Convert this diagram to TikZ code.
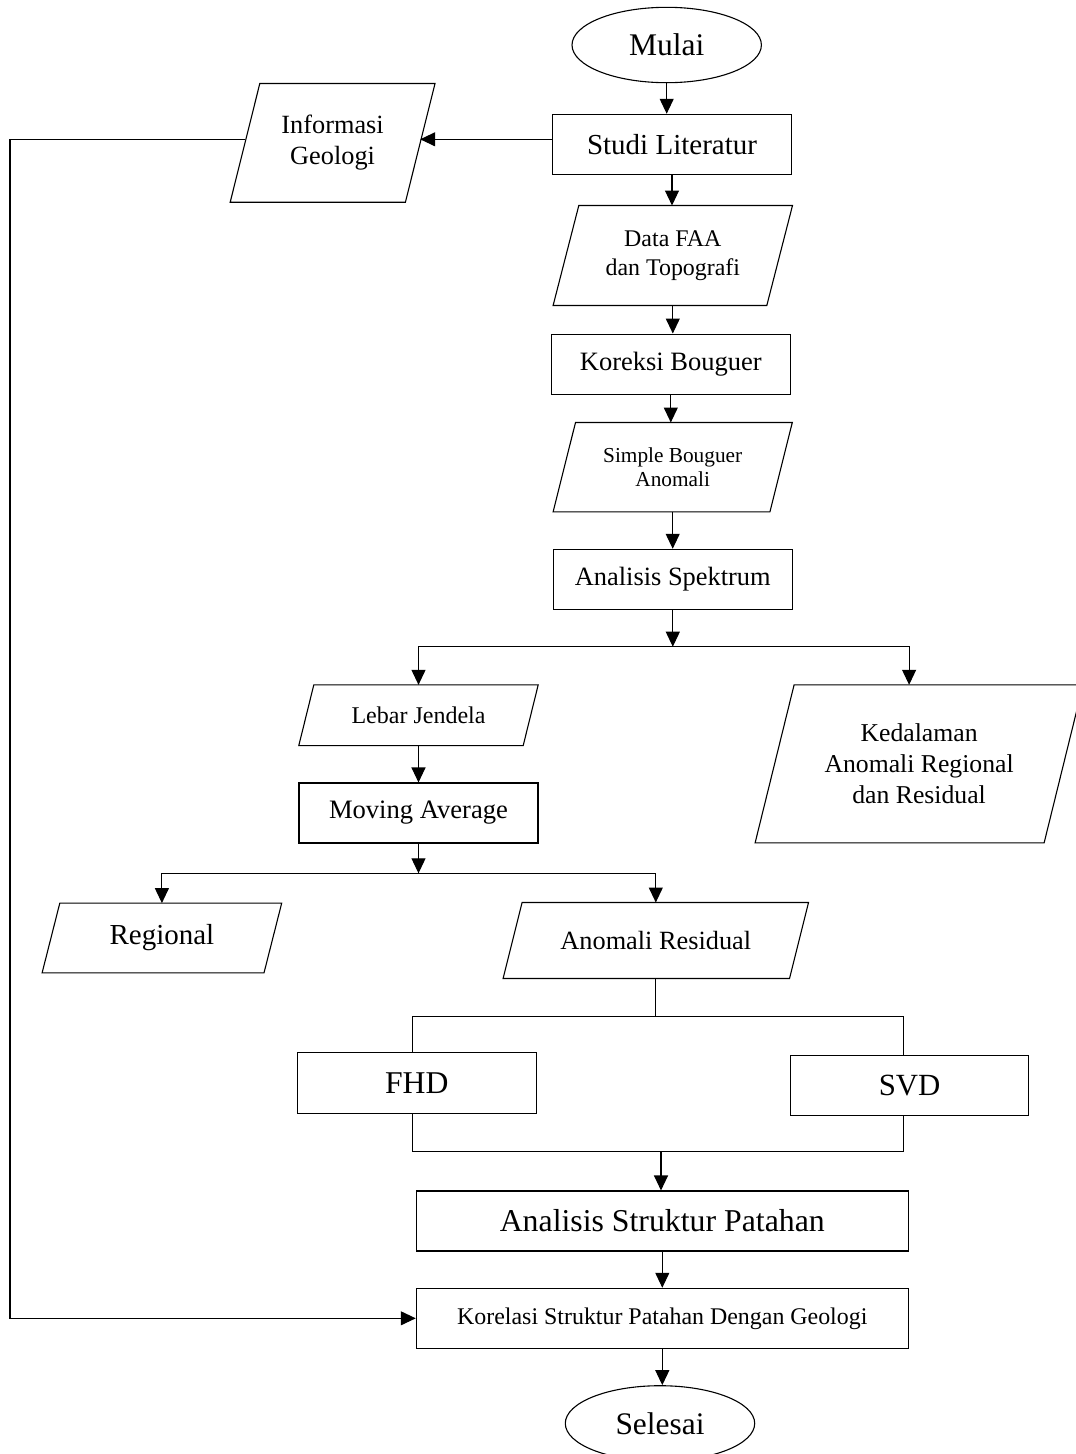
\documentclass[tikz,border=0pt]{standalone}
\usepackage{fontspec}
\setmainfont{Liberation Serif}
\usetikzlibrary{arrows.meta,shapes.geometric}
\tikzset{
  ln/.style={line width=1.1pt, black},
  arr/.style={ln, -{Triangle[length=15pt,width=14pt]}},
  boxn/.style={draw, ln, rectangle, inner sep=0pt, align=center},
  ovaln/.style={draw, ln, ellipse, inner sep=0pt, minimum width=189.4pt, minimum height=75.4pt},
  ptext/.style={inner sep=0pt, align=center},
}
\newcommand{\fs}[2]{\fontsize{#1}{#2}\selectfont}
% name, cx, cy, mid width, height, half skew, font size, baselineskip, text
\newcommand{\pgram}[9]{%
  \node[ptext, minimum width=#4pt, minimum height=#5pt, font=\fs{#7}{#8}] (#1) at (#2,#3) {#9};
  \draw[ln] ([xshift=#6pt]#1.north west) -- ([xshift=#6pt]#1.north east) -- ([xshift=-#6pt]#1.south east) -- ([xshift=-#6pt]#1.south west) -- cycle;}
\begin{document}
\begin{tikzpicture}[x=1pt,y=-1pt]
\useasboundingbox (0,0) rectangle (1076,1454);
\fill[white] (0,0) rectangle (1076,1454);
% nodes
\node[ovaln, font=\fs{31.5}{36}] (mulai) at (666.7,45) {Mulai};
\node[boxn, minimum width=239.4pt, minimum height=60pt, font=\fs{29}{34}] (studi) at (672,144.3) {Studi Literatur};
\pgram{info}{332.6}{142.85}{174.8}{118.3}{14.8}{26.3}{30.7}{Informasi\\Geologi}
\pgram{faa}{672.8}{255.5}{213.3}{99.6}{12.85}{23.9}{28.7}{Data FAA\\dan Topografi}
\node[boxn, minimum width=239pt, minimum height=60.3pt, font=\fs{26.5}{31}] (kor) at (670.8,364.2) {Koreksi Bouguer};
\pgram{sba}{672.7}{467.2}{216.4}{89}{11.2}{21.3}{24.3}{Simple Bouguer\\Anomali}
\node[boxn, minimum width=239pt, minimum height=60.4pt, font=\fs{26.4}{31}] (spek) at (672.8,579.5) {Analisis Spektrum};
\pgram{ked}{919.1}{763.85}{288.6}{157.7}{19.5}{25.7}{31}{Kedalaman\\Anomali Regional\\dan Residual}
\pgram{lebar}{418.5}{715.2}{224}{60.3}{7.5}{24}{28}{Lebar Jendela}
\node[boxn, minimum width=239pt, minimum height=60pt, font=\fs{26.6}{31}] (ma) at (418.5,813) {Moving Average};
\pgram{reg}{161.9}{938}{221.5}{69.4}{8.85}{29}{34}{Regional}
\pgram{ar}{655.8}{940.5}{286}{75.6}{9.5}{26.3}{31}{Anomali Residual}
\node[boxn, minimum width=239pt, minimum height=60.3pt, font=\fs{31.7}{36}] (fhd) at (416.8,1082.9) {FHD};
\node[boxn, minimum width=238.6pt, minimum height=60.3pt, font=\fs{30.8}{36}] (svd) at (909.6,1085.2) {SVD};
\node[boxn, minimum width=492pt, minimum height=60pt, font=\fs{31.8}{36}] (asp) at (662.3,1221) {Analisis Struktur Patahan};
\node[boxn, minimum width=492pt, minimum height=60pt, font=\fs{23.9}{28}] (korel) at (662.3,1318.3) {Korelasi Struktur Patahan Dengan Geologi};
\node[ovaln, font=\fs{31.4}{36}] (sel) at (660,1423.4) {Selesai};
% connectors
\draw[arr] (mulai.south) -- (mulai.south |- studi.north);
\draw[arr] ([yshift=5pt]studi.west) -- ([yshift=5pt]studi.west -| info.east);
\coordinate (gl) at (10,139.3);
\draw[arr] (info.west |- gl) -- (gl) |- (korel.west);
\draw[arr] (studi.south) -- (studi.south |- faa.north);
\draw[arr] (faa.south) -- (faa.south |- kor.north);
\draw[arr] (kor.south) -- (kor.south |- sba.north);
\draw[arr] (sba.south) -- (sba.south |- spek.north);
\coordinate (j1) at (670,646.7);
\draw[arr] (spek.south) -- (spek.south |- j1);
\draw[arr] (j1) -| (lebar.north);
\draw[arr] (j1) -| ([xshift=-10pt]ked.north);
\draw[arr] (lebar.south) -- (lebar.south |- ma.north);
\coordinate (j2) at (418.5,873.3);
\draw[arr] (ma.south) -- (j2);
\draw[arr] (j2) -| (reg.north);
\draw[arr] (j2) -| (ar.north);
\coordinate (j3) at (655.8,1016.7);
\draw[ln] (ar.south) -- (j3);
\draw[ln] ([xshift=-4.5pt]fhd.north) |- (j3) -| ([xshift=-6.5pt]svd.north);
\coordinate (j4) at (661,1151.7);
\draw[ln] ([xshift=-4.5pt]fhd.south) |- (j4) -| ([xshift=-6.5pt]svd.south);
\draw[arr] (j4) -- (j4 |- asp.north);
\draw[arr] (asp.south) -- (asp.south |- korel.north);
\draw[arr] (korel.south) -- (korel.south |- sel.north);
\end{tikzpicture}
\end{document}
